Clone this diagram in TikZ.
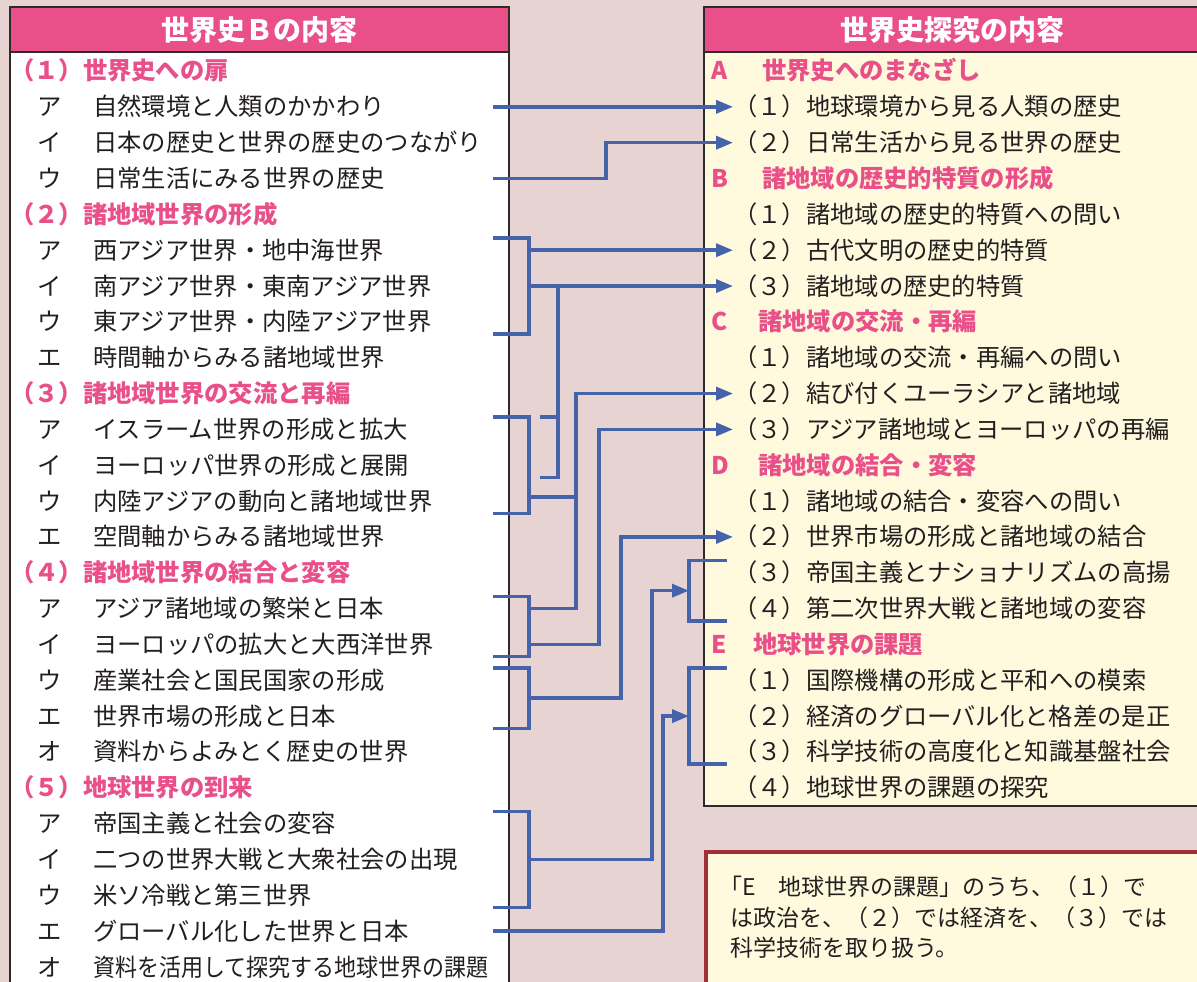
\documentclass[tikz,border=0pt]{standalone}
\usepackage{fontspec}
\setmainfont{Noto Sans CJK JP}
\usetikzlibrary{arrows.meta,calc}

\definecolor{bgpink}{HTML}{E8D3D3}
\definecolor{rose}{HTML}{E9508A}
\definecolor{cream}{HTML}{FFF9DD}
\definecolor{lineblue}{HTML}{4463AB}
\definecolor{ink}{HTML}{231F20}
\definecolor{framegray}{HTML}{2E2A2A}
\definecolor{notered}{HTML}{9E2F3B}

\tikzset{
  row/.style={anchor=west, inner sep=0pt, text height=21pt, text depth=3pt,
    font=\fontsize{24.3}{28}\selectfont, text=ink},
  head/.style={row, font=\fontsize{24.3}{28}\selectfont\bfseries, text=rose},
  title/.style={inner sep=0pt, font=\fontsize{28}{32}\selectfont\bfseries, text=white},
  frame/.style={draw=framegray, line width=2pt},
  link/.style={draw=lineblue, line width=3.5pt},
  arr/.style={link, -{Triangle[length=17pt,width=13pt]}},
}

\begin{document}
\begin{tikzpicture}[x=1pt,y=-1pt]
\clip (0,0) rectangle (1197,982);
\fill[bgpink] (0,0) rectangle (1197,982);

% boxes
\draw[frame, fill=white] (10,7) rectangle (509,995);
\draw[frame, fill=rose] (10,7) rectangle (509,52);
\draw[frame, fill=cream] (704,7) rectangle (1210,806);
\draw[frame, fill=rose] (704,7) rectangle (1210,52);
\draw[draw=notered, line width=4pt, fill=cream] (706,852) rectangle (1210,995);

\node[title] (tl) at (259.5,30) {世界史Ｂの内容};
\node[title] (tr) at (952,30) {世界史探究の内容};

% left column
\node[head] (l1) at (10,71) {（１）世界史への扉};
\node[row] (l2) at (37,106.84) {\makebox[56pt][l]{ア}自然環境と人類のかかわり};
\node[row] (l3) at (37,142.68) {\makebox[56pt][l]{イ}日本の歴史と世界の歴史のつながり};
\node[row] (l4) at (37,178.52) {\makebox[56pt][l]{ウ}日常生活にみる世界の歴史};
\node[head] (l5) at (10,214.36) {（２）諸地域世界の形成};
\node[row] (l6) at (37,250.2) {\makebox[56pt][l]{ア}西アジア世界・地中海世界};
\node[row] (l7) at (37,286.04) {\makebox[56pt][l]{イ}南アジア世界・東南アジア世界};
\node[row] (l8) at (37,321.88) {\makebox[56pt][l]{ウ}東アジア世界・内陸アジア世界};
\node[row] (l9) at (37,357.72) {\makebox[56pt][l]{エ}時間軸からみる諸地域世界};
\node[head] (l10) at (10,393.56) {（３）諸地域世界の交流と再編};
\node[row] (l11) at (37,429.4) {\makebox[56pt][l]{ア}イスラーム世界の形成と拡大};
\node[row] (l12) at (37,465.24) {\makebox[56pt][l]{イ}ヨーロッパ世界の形成と展開};
\node[row] (l13) at (37,501.08) {\makebox[56pt][l]{ウ}内陸アジアの動向と諸地域世界};
\node[row] (l14) at (37,536.92) {\makebox[56pt][l]{エ}空間軸からみる諸地域世界};
\node[head] (l15) at (10,572.76) {（４）諸地域世界の結合と変容};
\node[row] (l16) at (37,608.6) {\makebox[56pt][l]{ア}アジア諸地域の繁栄と日本};
\node[row] (l17) at (37,644.44) {\makebox[56pt][l]{イ}ヨーロッパの拡大と大西洋世界};
\node[row] (l18) at (37,680.28) {\makebox[56pt][l]{ウ}産業社会と国民国家の形成};
\node[row] (l19) at (37,716.12) {\makebox[56pt][l]{エ}世界市場の形成と日本};
\node[row] (l20) at (37,751.96) {\makebox[56pt][l]{オ}資料からよみとく歴史の世界};
\node[head] (l21) at (10,787.8) {（５）地球世界の到来};
\node[row] (l22) at (37,823.64) {\makebox[56pt][l]{ア}帝国主義と社会の変容};
\node[row] (l23) at (37,859.48) {\makebox[56pt][l]{イ}二つの世界大戦と大衆社会の出現};
\node[row] (l24) at (37,895.32) {\makebox[56pt][l]{ウ}米ソ冷戦と第三世界};
\node[row] (l25) at (37,931.16) {\makebox[56pt][l]{エ}グローバル化した世界と日本};
\node[row] (l26) at (37,967) {\makebox[56pt][l]{オ}\scalebox{0.905}[1]{資料を活用して探究する地球世界の課題}};

% right column
\node[head] (r1) at (711,71) {\makebox[51pt][l]{A}世界史へのまなざし};
\node[row] (r2) at (733,106.84) {（１）地球環境から見る人類の歴史};
\node[row] (r3) at (733,142.68) {（２）日常生活から見る世界の歴史};
\node[head] (r4) at (711,178.52) {\makebox[51pt][l]{B}諸地域の歴史的特質の形成};
\node[row] (r5) at (733,214.36) {（１）諸地域の歴史的特質への問い};
\node[row] (r6) at (733,250.2) {（２）古代文明の歴史的特質};
\node[row] (r7) at (733,286.04) {（３）諸地域の歴史的特質};
\node[head] (r8) at (711,321.88) {\makebox[47pt][l]{C}諸地域の交流・再編};
\node[row] (r9) at (733,357.72) {（１）諸地域の交流・再編への問い};
\node[row] (r10) at (733,393.56) {（２）結び付くユーラシアと諸地域};
\node[row] (r11) at (733,429.4) {（３）アジア諸地域とヨーロッパの再編};
\node[head] (r12) at (711,465.24) {\makebox[47pt][l]{D}諸地域の結合・変容};
\node[row] (r13) at (733,501.08) {（１）諸地域の結合・変容への問い};
\node[row] (r14) at (733,536.92) {（２）世界市場の形成と諸地域の結合};
\node[row] (r15) at (733,572.76) {（３）帝国主義とナショナリズムの高揚};
\node[row] (r16) at (733,608.6) {（４）第二次世界大戦と諸地域の変容};
\node[head] (r17) at (711,644.44) {\makebox[42pt][l]{E}地球世界の課題};
\node[row] (r18) at (733,680.28) {（１）国際機構の形成と平和への模索};
\node[row] (r19) at (733,716.12) {（２）経済のグローバル化と格差の是正};
\node[row] (r20) at (733,751.96) {（３）科学技術の高度化と知識基盤社会};
\node[row] (r21) at (733,787.8) {（４）地球世界の課題の探究};

% note
\node[anchor=north west, inner sep=0pt, align=left, text=ink,
  font=\fontsize{23}{30.5}\selectfont] (note) at (730,876)
  {\hspace*{-11pt}「E　地球世界の課題」のうち、（１）で\\
   は政治を、（２）では経済を、（３）では\\
   科学技術を取り扱う。};

% connector columns
\coordinate (xl) at (493,0);
\coordinate (xb) at (529,0);
\coordinate (j1) at (606,0);
\coordinate (j2s) at (540,0);
\coordinate (j2) at (558,0);
\coordinate (j3) at (576,0);
\coordinate (j4) at (599,0);
\coordinate (j5) at (621,0);
\coordinate (j6) at (652,0);
\coordinate (j7) at (663,0);
\coordinate (xr) at (689,0);
\coordinate (xre) at (727,0);

% connectors
\draw[arr] (l2 -| xl) -- (r2.west);
\draw[arr] (l4 -| xl) -| (j1 |- r3) -- (r3.west);

\draw[link] (l6.north -| xl) -| (xb |- l8.south) -- (l8.south -| xl);
\draw[arr] (xb |- r6) -- (r6.west);
\draw[arr] (xb |- r7) -- (r7.west);
\draw[link] (j2 |- r7) -- (j2 |- l12.south) -- (j2s |- l12.south);
\draw[link] (j2s |- l11.north) -- (j2 |- l11.north);

\draw[link] (l11.north -| xl) -| (xb |- l13.south) -- (l13.south -| xl);
\draw[link] ($(xb |- l13)+(0,-4)$) -- ($(j3 |- l13)+(0,-4)$);
\draw[arr] (xb |- l16) -| (j3 |- r10) -- (r10.west);

\draw[link] (l16.north -| xl) -| (xb |- l17.south) -- (l17.south -| xl);
\draw[arr] (xb |- l17) -| (j4 |- r11) -- (r11.west);

\draw[link] (l18.north -| xl) -| (xb |- l19.south) -- (l19.south -| xl);
\draw[arr] ($(xb |- l18)!.5!(xb |- l19)$) -| (j5 |- r14) -- (r14.west);

\draw[link] (xre |- r15.north) -| (xr |- r16.south) -- (xre |- r16.south);
\coordinate (m1) at ($(xr |- r15)!.5!(xr |- r16)$);
\draw[link] (l22.north -| xl) -| (xb |- l24.south) -- (l24.south -| xl);
\draw[arr] (xb |- l23) -| (j6 |- m1) -- (m1);

\draw[link] (xre |- r18.north) -| (xr |- r20.south) -- (xre |- r20.south);
\draw[arr] (l25 -| xl) -| (j7 |- r19) -- (xr |- r19);
\end{tikzpicture}
\end{document}
